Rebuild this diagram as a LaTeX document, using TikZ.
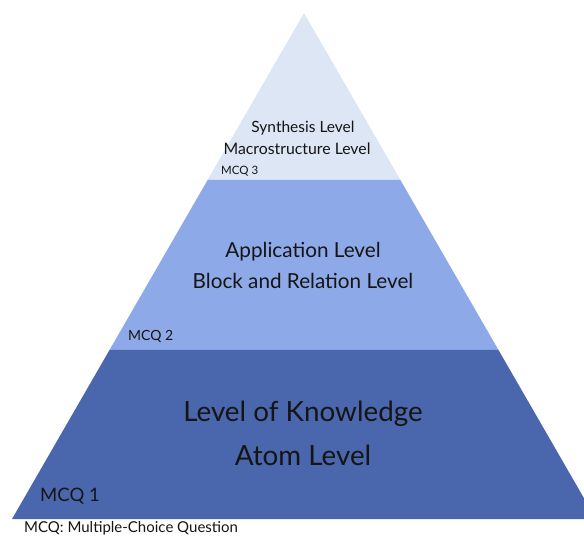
\documentclass[tikz,border=0pt]{standalone}
\usepackage{fontspec}
\setmainfont{Lato}
\definecolor{topc}{HTML}{DCE6F5}
\definecolor{midc}{HTML}{8EA9E8}
\definecolor{botc}{HTML}{4A66AC}
\definecolor{txt}{HTML}{151515}
\begin{document}
\begin{tikzpicture}[x=1pt,y=-1pt,
  lbl/.style={text=txt,inner sep=0pt,anchor=center},
  mcq/.style={text=txt,inner sep=0pt,anchor=west}]
\useasboundingbox (0,0) rectangle (584,537);
\begin{scope}
\clip (0,0) rectangle (584,537);
\coordinate (apex) at (304,13);
\coordinate (l1) at (207.6,180);
\coordinate (r1) at (400.4,180);
\coordinate (l2) at (109.5,350);
\coordinate (r2) at (498.5,350);
\coordinate (l3) at (12,519);
\coordinate (r3) at (596,519);
\fill[topc] (apex) -- (r1) -- (l1) -- cycle;
\fill[midc] (l1) -- (r1) -- (r2) -- (l2) -- cycle;
\fill[botc] (l2) -- (r2) -- (r3) -- (l3) -- cycle;
\end{scope}
\node[lbl,font=\fontsize{15.5}{18}\selectfont] (s1) at (303,128) {Synthesis Level};
\node[lbl,font=\fontsize{15.8}{18}\selectfont] (s2) at (297,149) {Macrostructure Level};
\node[mcq,font=\fontsize{11.5}{13}\selectfont] (m3) at (221,171) {MCQ 3};
\node[lbl,font=\fontsize{20.7}{24}\selectfont] (a1) at (303,252) {Application Level};
\node[lbl,font=\fontsize{20.7}{24}\selectfont] (a2) at (303,281) {Block and Relation Level};
\node[mcq,font=\fontsize{14}{16}\selectfont] (m2) at (128,336) {MCQ 2};
\node[lbl,font=\fontsize{27.8}{32}\selectfont] (k1) at (303,414) {Level of Knowledge};
\node[lbl,font=\fontsize{27.8}{32}\selectfont] (k2) at (303,455) {Atom Level};
\node[mcq,font=\fontsize{18.5}{21}\selectfont] (m1) at (40,496) {MCQ 1};
\node[mcq,font=\fontsize{15}{17}\selectfont] (leg) at (24,528) {MCQ: Multiple-Choice Question};
\end{tikzpicture}
\end{document}
